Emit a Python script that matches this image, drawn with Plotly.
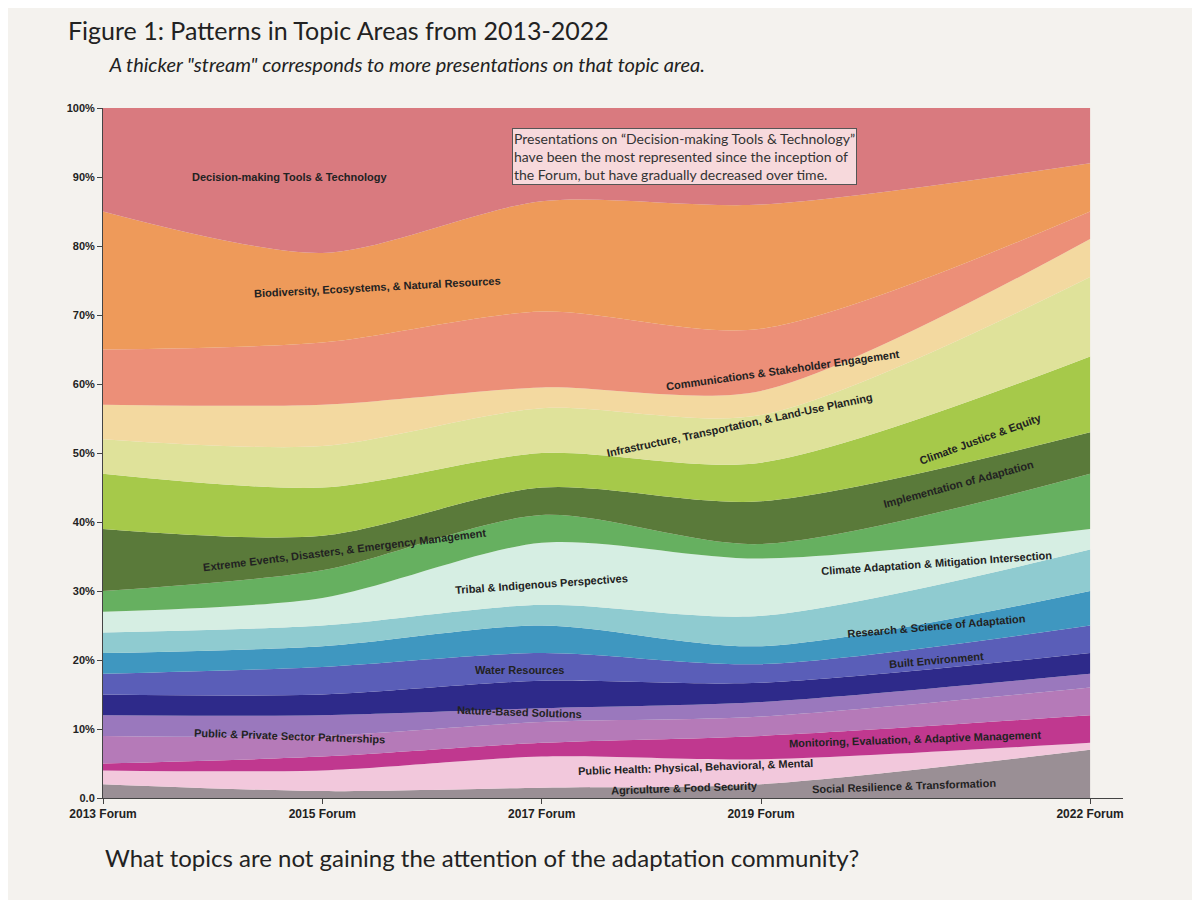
import plotly.graph_objects as go

years = [2013, 2015, 2017, 2019, 2022]
year_labels = ["2013 Forum", "2015 Forum", "2017 Forum", "2019 Forum", "2022 Forum"]

# bottom to top, shares per forum (%)
topics = [
    "Social Resilience & Transformation",
    "Agriculture & Food Security",
    "Public Health: Physical, Behavioral, & Mental",
    "Monitoring, Evaluation, & Adaptive Management",
    "Public & Private Sector Partnerships",
    "Nature-Based Solutions",
    "Water Resources",
    "Built Environment",
    "Research & Science of Adaptation",
    "Tribal & Indigenous Perspectives",
    "Climate Adaptation & Mitigation Intersection",
    "Extreme Events, Disasters, & Emergency Management",
    "Implementation of Adaptation",
    "Climate Justice & Equity",
    "Infrastructure, Transportation, & Land-Use Planning",
    "Communications & Stakeholder Engagement",
    "Biodiversity, Ecosystems, & Natural Resources",
    "Decision-making Tools & Technology",
]
shares = [
    [2, 1, 1.5, 2, 7],
    [2, 3, 4.5, 3.6, 1],
    [1, 2, 2, 3.4, 4],
    [4, 3, 3, 2.8, 4],
    [3, 3, 2, 2.1, 2],
    [3, 3, 4, 2.8, 3],
    [3, 4, 4, 2.7, 4],
    [3, 3, 4, 2.6, 5],
    [3, 3, 3, 4.4, 6],
    [3, 4, 9, 8.3, 3],
    [3, 4, 4, 2.1, 8],
    [9, 5, 4, 6.2, 6],
    [8, 7, 5, 5.6, 11],
    [5, 6, 6.5, 6.9, 11.5],
    [5, 6, 3, 3.5, 5.5],
    [8, 9, 11, 9, 4],
    [20, 13, 16, 18, 7],
    [15, 21, 13.5, 14, 8],
]
colors = ["#9a8f95", "#f2c8dc", "#c0388f", "#b57ab8", "#9a78bd", "#2e2a8a", "#5a5eb8",
          "#3f97c0", "#8fcbd0", "#d6eee3", "#66b060", "#5a7a3a", "#a6c94a", "#dfe29a",
          "#f3d9a0", "#ec8f78", "#ee9a5a", "#d97a7f"]

fig = go.Figure()
for name, vals, c in zip(topics, shares, colors):
    fig.add_trace(go.Scatter(x=years, y=vals, name=name, stackgroup="one", groupnorm="percent",
                             mode="lines", line=dict(width=0, shape="spline", smoothing=0.8),
                             fillcolor=c, hoverinfo="name+y"))

labels = [
    ("Decision-making Tools & Technology", 2014.7, 90, 0),
    ("Biodiversity, Ecosystems, & Natural Resources", 2015.5, 74, -3),
    ("Communications & Stakeholder Engagement", 2019.2, 62, -8),
    ("Infrastructure, Transportation, & Land-Use Planning", 2018.8, 54, -12),
    ("Climate Justice & Equity", 2021.0, 52, -20),
    ("Implementation of Adaptation", 2020.8, 45.5, -15),
    ("Extreme Events, Disasters, & Emergency Management", 2015.2, 36, -7),
    ("Tribal & Indigenous Perspectives", 2017.0, 31, -4),
    ("Climate Adaptation & Mitigation Intersection", 2020.6, 34, -4),
    ("Research & Science of Adaptation", 2020.6, 25, -5),
    ("Built Environment", 2020.6, 20, -5),
    ("Water Resources", 2016.8, 18.5, 0),
    ("Nature-Based Solutions", 2016.8, 12.5, 2),
    ("Public & Private Sector Partnerships", 2014.7, 9, 2),
    ("Monitoring, Evaluation, & Adaptive Management", 2020.4, 8.5, -2),
    ("Public Health: Physical, Behavioral, & Mental", 2018.4, 4.5, -2),
    ("Agriculture & Food Security", 2018.3, 1.5, -2),
    ("Social Resilience & Transformation", 2020.3, 1.8, -2),
]
for t, x, y, a in labels:
    fig.add_annotation(x=x, y=y, text="<b>" + t + "</b>", showarrow=False, textangle=a,
                       font=dict(family="Liberation Sans", size=11, color="#222"))

fig.add_annotation(x=2018.3, y=93, text="Presentations on “Decision-making Tools & Technology”<br>have been the most represented since the inception of<br>the Forum, but have gradually decreased over time.",
                   showarrow=False, align="left", bgcolor="#f7d9dc", bordercolor="#555", borderwidth=1,
                   font=dict(family="Lato", size=14, color="#333"))
fig.add_annotation(x=2022, y=-3.5, text="<b>Year</b>", showarrow=False, xanchor="right",
                   font=dict(family="Liberation Sans", size=13, color="#888"))

fig.update_layout(
    width=1200, height=900, paper_bgcolor="#f4f2ee", plot_bgcolor="#f4f2ee",
    margin=dict(l=95, r=85, t=100, b=110), showlegend=False,
    title=dict(text="Figure 1: Patterns in Topic Areas from 2013-2022<br><span style='font-size:20px'><i>         A thicker \"stream\" corresponds to more presentations on that topic area.</i></span>",
               x=0.05, y=0.965, xanchor="left", yanchor="top",
               font=dict(family="Lato", size=25, color="#222")),
    xaxis=dict(tickvals=years, ticktext=["<b>%s</b>" % s for s in year_labels], range=[2013, 2022.3],
               showgrid=False, zeroline=False, ticks="outside", showline=True, linecolor="#444",
               tickfont=dict(family="Liberation Sans", size=12, color="#222")),
    yaxis=dict(range=[0, 100], tickvals=list(range(0, 101, 10)),
               ticktext=["<b>0.0</b>"] + ["<b>%d%%</b>" % v for v in range(10, 101, 10)],
               showgrid=False, zeroline=False, ticks="outside", showline=True, linecolor="#444",
               tickfont=dict(family="Liberation Sans", size=11, color="#222")),
)
fig.add_annotation(x=0.0, y=-0.11, xref="paper", yref="paper", xanchor="left", showarrow=False,
                   text="What topics are not gaining the attention of the adaptation community?",
                   font=dict(family="Lato", size=24, color="#222"))
fig.write_html("out.html")
